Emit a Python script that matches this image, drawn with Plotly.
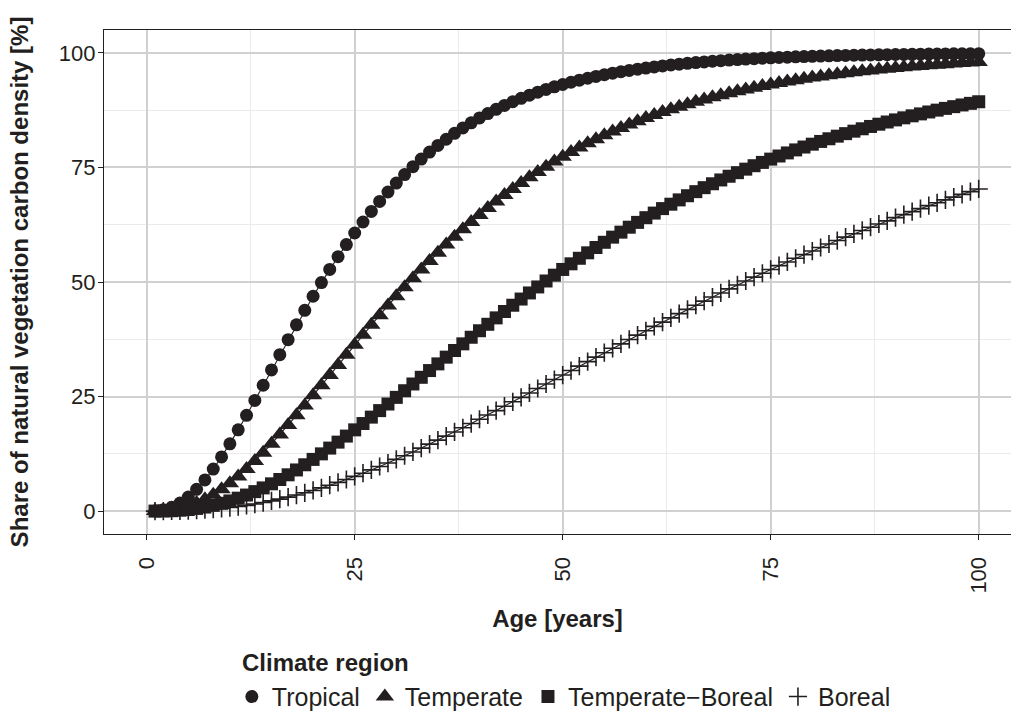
import plotly.graph_objects as go

ages = list(range(1, 101))

tropical = [
    0.04, 0.27, 0.82, 1.74, 3.06, 4.76, 6.81, 9.18, 11.83, 14.69,
    17.73, 20.90, 24.16, 27.47, 30.80, 34.13, 37.41, 40.65, 43.81, 46.89,
    49.87, 52.74, 55.51, 58.16, 60.69, 63.10, 65.40, 67.58, 69.64, 71.60,
    73.44, 75.18, 76.82, 78.36, 79.81, 81.16, 82.44, 83.63, 84.75, 85.80,
    86.77, 87.69, 88.54, 89.34, 90.08, 90.77, 91.42, 92.03, 92.59, 93.11,
    93.60, 94.05, 94.47, 94.87, 95.23, 95.57, 95.89, 96.18, 96.45, 96.70,
    96.94, 97.16, 97.36, 97.55, 97.73, 97.89, 98.04, 98.18, 98.31, 98.43,
    98.55, 98.65, 98.75, 98.84, 98.92, 99.00, 99.07, 99.14, 99.20, 99.26,
    99.31, 99.36, 99.41, 99.45, 99.49, 99.53, 99.56, 99.59, 99.62, 99.65,
    99.67, 99.70, 99.72, 99.74, 99.76, 99.78, 99.79, 99.81, 99.82, 99.84,
]

temperate = [
    0.01, 0.09, 0.27, 0.60, 1.08, 1.74, 2.58, 3.58, 4.76, 6.09,
    7.57, 9.19, 10.92, 12.76, 14.69, 16.70, 18.77, 20.90, 23.06, 25.26,
    27.47, 29.69, 31.91, 34.13, 36.32, 38.50, 40.65, 42.76, 44.85, 46.89,
    48.88, 50.84, 52.74, 54.60, 56.40, 58.16, 59.86, 61.51, 63.10, 64.65,
    66.14, 67.58, 68.97, 70.31, 71.60, 72.84, 74.03, 75.18, 76.28, 77.34,
    78.36, 79.33, 80.27, 81.16, 82.02, 82.84, 83.63, 84.39, 85.11, 85.80,
    86.45, 87.09, 87.69, 88.26, 88.81, 89.34, 89.84, 90.32, 90.77, 91.21,
    91.63, 92.03, 92.40, 92.77, 93.11, 93.44, 93.75, 94.05, 94.34, 94.61,
    94.87, 95.11, 95.35, 95.57, 95.78, 95.98, 96.18, 96.36, 96.54, 96.70,
    96.86, 97.02, 97.16, 97.30, 97.43, 97.55, 97.67, 97.78, 97.89, 97.99,
]

temperate_boreal = [
    0.00, 0.03, 0.08, 0.19, 0.35, 0.58, 0.88, 1.25, 1.70, 2.22,
    2.82, 3.50, 4.25, 5.06, 5.95, 6.90, 7.92, 8.98, 10.11, 11.28,
    12.49, 13.75, 15.05, 16.37, 17.73, 19.11, 20.51, 21.93, 23.37, 24.82,
    26.27, 27.74, 29.20, 30.67, 32.13, 33.60, 35.05, 36.50, 37.94, 39.36,
    40.77, 42.17, 43.56, 44.93, 46.28, 47.61, 48.92, 50.22, 51.49, 52.74,
    53.97, 55.18, 56.37, 57.53, 58.67, 59.79, 60.88, 61.96, 63.01, 64.04,
    65.04, 66.02, 66.98, 67.92, 68.83, 69.72, 70.59, 71.44, 72.27, 73.08,
    73.86, 74.63, 75.38, 76.10, 76.82, 77.50, 78.17, 78.83, 79.46, 80.08,
    80.68, 81.26, 81.83, 82.38, 82.92, 83.44, 83.95, 84.44, 84.92, 85.38,
    85.83, 86.27, 86.69, 87.11, 87.51, 87.89, 88.27, 88.64, 88.99, 89.34,
]

boreal = [
    0.00, 0.01, 0.03, 0.06, 0.11, 0.19, 0.29, 0.42, 0.58, 0.77,
    0.99, 1.25, 1.54, 1.86, 2.22, 2.61, 3.04, 3.50, 3.99, 4.51,
    5.07, 5.65, 6.26, 6.90, 7.57, 8.27, 8.99, 9.73, 10.49, 11.28,
    12.08, 12.91, 13.75, 14.61, 15.48, 16.37, 17.27, 18.19, 19.11, 20.04,
    20.98, 21.93, 22.89, 23.85, 24.82, 25.79, 26.76, 27.74, 28.71, 29.69,
    30.67, 31.65, 32.62, 33.60, 34.57, 35.53, 36.50, 37.46, 38.41, 39.36,
    40.31, 41.24, 42.17, 43.10, 44.02, 44.93, 45.83, 46.72, 47.61, 48.49,
    49.36, 50.22, 51.07, 51.91, 52.74, 53.57, 54.38, 55.18, 55.97, 56.76,
    57.53, 58.29, 59.05, 59.79, 60.52, 61.25, 61.96, 62.66, 63.35, 64.04,
    64.71, 65.37, 66.02, 66.66, 67.29, 67.92, 68.53, 69.13, 69.72, 70.31,
]

series_names = ["Tropical", "Temperate", "Temperate\u2212Boreal", "Boreal"]
series_values = [tropical, temperate, temperate_boreal, boreal]
symbols = ["circle", "triangle-up", "square", "cross-thin"]
sizes = [13, 16, 13, 13]

tick_vals = [0, 25, 50, 75, 100]
tick_text = ["0", "25", "50", "75", "100"]
minor_vals = [12.5, 37.5, 62.5, 87.5]

INK = "#231f20"
FONT = "Liberation Sans, Arial, Helvetica, sans-serif"

fig = go.Figure()

# connecting lines (drawn below the points)
for name, vals in zip(series_names, series_values):
    fig.add_trace(go.Scatter(
        x=ages, y=vals, mode="lines", showlegend=False, hoverinfo="skip",
        line=dict(color=INK, width=1.1),
    ))

# points
for name, vals, sym, sz in zip(series_names, series_values, symbols, sizes):
    marker = dict(symbol=sym, size=sz, color=INK, line=dict(width=0, color=INK))
    if sym == "cross-thin":
        marker["line"] = dict(width=1.6, color=INK)
    fig.add_trace(go.Scatter(
        x=ages, y=vals, mode="markers", name=name, marker=marker,
    ))

axis_common = dict(
    showline=True, linecolor=INK, linewidth=1.2,
    ticks="outside", ticklen=5, tickwidth=1.4, tickcolor=INK,
    showgrid=True, gridcolor="#d0d0d0", gridwidth=1.6,
    zeroline=False,
    tickfont=dict(family=FONT, size=22, color=INK),
)

fig.update_layout(
    width=1011, height=711,
    margin=dict(l=104, r=0, t=30, b=177, autoexpand=False),
    paper_bgcolor="white", plot_bgcolor="white",
    font=dict(family=FONT, color=INK),
    xaxis=dict(
        **axis_common,
        range=[-5.13, 103.88],
        tickmode="array", tickvals=tick_vals, ticktext=tick_text,
        tickangle=-90, mirror=True, ticklabelstandoff=8,
        minor=dict(tickmode="array", tickvals=minor_vals, showgrid=True,
                   gridcolor="#ebebeb", gridwidth=1.1, ticks=""),
        title=dict(text="Age [years]", standoff=17,
                   font=dict(family=FONT, size=24, color=INK, weight="bold")),
    ),
    yaxis=dict(
        **axis_common,
        range=[-5, 105],
        tickmode="array", tickvals=tick_vals, ticktext=tick_text,
        ticklabelstandoff=-2,
        minor=dict(tickmode="array", tickvals=minor_vals, showgrid=True,
                   gridcolor="#ebebeb", gridwidth=1.1, ticks=""),
        title=dict(text="Share of natural vegetation carbon density [%]", standoff=23,
                   font=dict(family=FONT, size=24, color=INK, weight="bold")),
    ),
    legend=dict(
        orientation="h", x=0.507, xanchor="center", y=-0.323, yanchor="middle",
        font=dict(family=FONT, size=25, color=INK),
        bgcolor="rgba(0,0,0,0)",
    ),
    annotations=[dict(
        text="Climate region", xref="paper", yref="paper",
        x=(240 - 104) / 907, y=(534 - 662) / 504, xanchor="left", yanchor="middle",
        showarrow=False,
        font=dict(family=FONT, size=24, color=INK, weight="bold"),
    )],
)

fig.write_html("out.html", config={"displayModeBar": False},
               post_script="document.body.style.margin='0';")
